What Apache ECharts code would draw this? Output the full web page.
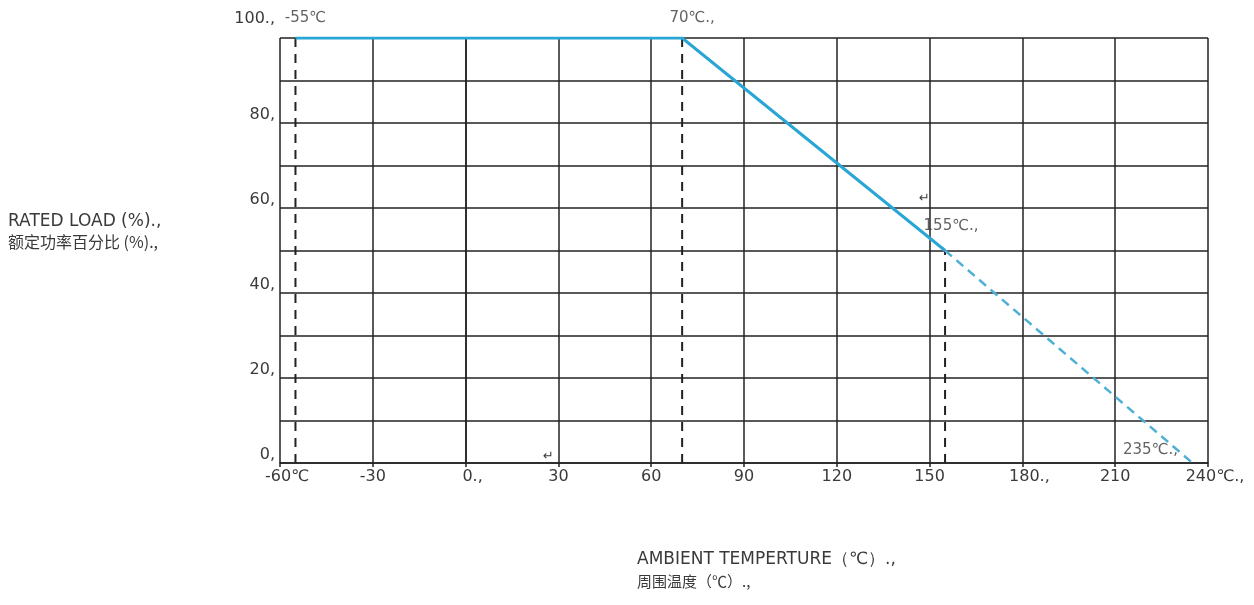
<!DOCTYPE html>
<html><head><meta charset="utf-8">
<script src="https://cdn.jsdelivr.net/npm/echarts@6/dist/echarts.min.js"></script>
<style>html,body{margin:0;padding:0;background:#fff}#c{width:1254px;height:605px}</style>
</head><body><div id="c"></div>
<script>
// Data
var xTicks = [-60, -30, 0, 30, 60, 90, 120, 150, 180, 210, 240];
var xTickText = ['-60℃', '-30', '0.,', '30', '60', '90', '120', '150', '180.,', '210', '240℃.,'];
var yTickText = {100: '100.,', 80: '80,', 60: '60,', 40: '40,', 20: '20,', 0: '0,'};
var solidTemp = [-55, 70, 155];
var solidLoad = [100, 100, 50];
var dashTemp = [155, 235];
var dashLoad = [50, 0];
var guideTemp = [-55, 70, 155];
var guideTop = [100, 100, 50];
var pointLabels = ['-55℃', '70℃.,', '155℃.,', '235℃.,'];
var pointTemp = [-55, 70, 155, 235];
var pointLoad = [100, 100, 50, 0];

var font = '"DejaVu Sans", "Liberation Sans", Arial, sans-serif';
var cjk = '"Noto Sans CJK SC", "DejaVu Sans", sans-serif';
var txt = '#3a3a3a';
var chart = echarts.init(document.getElementById('c'));

var series = [
  {type: 'line', data: solidTemp.map(function(t, i){return [t, solidLoad[i]];}),
   symbol: 'none', lineStyle: {color: '#2aa6d6', width: 3}, z: 5, silent: true},
  {type: 'line', data: dashTemp.map(function(t, i){return [t, dashLoad[i]];}),
   symbol: 'none', lineStyle: {color: '#4fb0d6', width: 2.5, type: [9, 6]}, z: 5, silent: true}
];
guideTemp.forEach(function(t, i){
  series.push({type: 'line', data: [[t, 0], [t, guideTop[i]]], symbol: 'none',
    lineStyle: {color: '#222', width: 2, type: [9, 7]}, z: 4, silent: true});
});
var labelOffsets = [[10, -20], [10, -20], [6, -24], [-42, -13]];
series.push({type: 'scatter', symbolSize: 0, silent: true, z: 6,
  data: pointTemp.map(function(t, i){
    return {value: [t, pointLoad[i]], label: {show: true, formatter: pointLabels[i],
      offset: labelOffsets[i], color: txt, fontFamily: font, fontSize: 15}};
  }),
  label: {position: 'inside', color: txt, fontFamily: font, fontSize: 15}
});

chart.setOption({
  animation: false,
  grid: {left: 280, top: 38, right: 46, bottom: 142, containLabel: false},
  xAxis: {type: 'value', min: -60, max: 240, interval: 30,
    axisLine: {show: true, lineStyle: {color: '#222', width: 1.5}},
    axisTick: {show: true, length: 4, lineStyle: {color: '#222', width: 1.5}},
    splitLine: {show: true, lineStyle: {color: '#222', width: 1.5}},
    axisLabel: {color: txt, fontFamily: font, fontSize: 16, margin: 6,
      formatter: function(v){
        var i = xTicks.indexOf(v);
        var s = i >= 0 ? xTickText[i] : '';
        var m = s.match(/^(-?\d+)(.*)$/);
        if (m && m[2]) {
          return '{p|' + '}{n|' + m[1] + '}{s|' + m[2] + '}';
        }
        return s;
      },
      rich: {p: {width: 14}, n: {fontSize: 16, color: txt, fontFamily: font},
             s: {fontSize: 16, color: txt, fontFamily: font}}
    }},
  yAxis: {type: 'value', min: 0, max: 100, interval: 10,
    axisLine: {show: true, lineStyle: {color: '#222', width: 1.5}},
    axisTick: {show: false},
    splitLine: {show: true, lineStyle: {color: '#222', width: 1.5}},
    axisLabel: {color: txt, fontFamily: font, fontSize: 16, margin: 5,
      verticalAlign: 'bottom',
      formatter: function(v){
        if (v === 100) return '{t|' + yTickText[v] + '}';
        return yTickText[v] !== undefined ? yTickText[v] : '';
      },
      rich: {t: {fontSize: 16, color: txt, fontFamily: font, padding: [0, 0, 11, 0]}}
    }},
  graphic: [
    {type: 'text', left: 8, top: 213, style: {text: 'RATED LOAD (%).,', fill: txt, font: '17px ' + font}},
    {type: 'text', left: 8, top: 234, style: {text: '额定功率百分比 (%).,', fill: txt, font: '16px ' + cjk}},
    {type: 'text', left: 637, top: 551, style: {text: 'AMBIENT TEMPERTURE（℃）.,', fill: txt, font: '17px ' + font}},
    {type: 'text', left: 637, top: 574, style: {text: '周围温度（℃）.,', fill: txt, font: '15px ' + cjk}},
    {type: 'text', left: 919, top: 192, style: {text: '↵', fill: txt, font: '13px ' + font}},
    {type: 'text', left: 543, top: 450, style: {text: '↵', fill: txt, font: '13px ' + font}}
  ],
  series: series
});
</script></body></html>
